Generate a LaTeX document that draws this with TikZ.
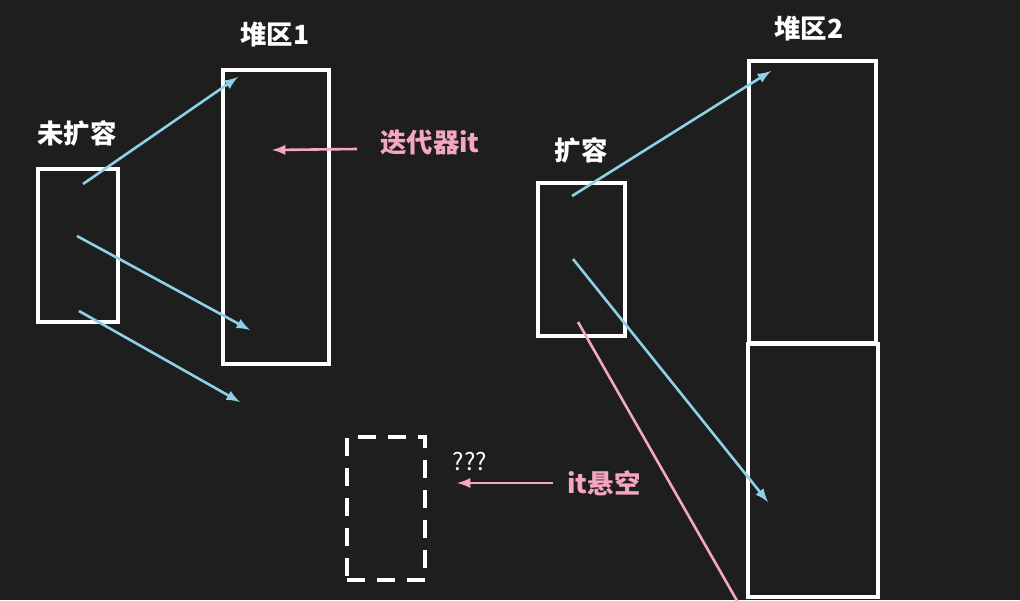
\documentclass[tikz,border=0pt]{standalone}
\usepackage{xcolor}
\usepackage{fontspec}
\usepackage{tikz}
\usetikzlibrary{arrows,shapes,positioning}
\newfontfamily\cjk{Noto Sans CJK SC}
\definecolor{bgdark}{HTML}{1E1E1E}
\definecolor{ptrblue}{HTML}{8ED1E6}
\definecolor{itpink}{HTML}{F4A6C2}

\begin{document}
\begin{tikzpicture}[x=0.5pt,y=-0.5pt,
    box/.style={draw=white, line width=1.6pt, inner sep=0pt},
    title/.style={text=white, font=\cjk\bfseries\fontsize{13.2}{15}\selectfont},
    tag/.style={text=itpink, font=\cjk\bfseries\fontsize{13.2}{15}\selectfont},
    ptr/.style={->,>=latex, draw=ptrblue, line width=1.3pt},
    itptr/.style={->,>=latex, draw=itpink, line width=1.3pt}]
        \fill[bgdark] (0,0) rectangle (1020,600);
        \useasboundingbox (0,0) rectangle (1020,600);

        % old storage and heap 1
        \node[box, minimum width=40pt, minimum height=76.5pt] (old) at (78,245.5) {};
        \node[title] (oldlbl) at (77,133) {未扩容};
        \node[box, minimum width=53pt, minimum height=147pt] (heapa) at (276,217) {};
        \node[title] (heapalbl) at (275,35) {堆区1};
        \node[tag] (itlbl) at (430,142) {迭代器it};

        \coordinate (o1) at (83,184);
        \coordinate (o2) at (77,236);
        \coordinate (o3) at (79,311);
        \coordinate (h1) at (238,77);
        \coordinate (h2) at (250,330);
        \coordinate (h3) at (240,402);
        \draw[ptr] (o1) -- (h1);
        \draw[ptr] (o2) -- (h2);
        \draw[ptr] (o3) -- (h3);

        \coordinate (itsrc) at (357,149);
        \coordinate (itdst) at (272,150);
        \draw[itptr] (itsrc) -- (itdst);

        % new storage and heap 2
        \node[box, minimum width=43.5pt, minimum height=76.5pt] (new) at (581.5,259.5) {};
        \node[title] (newlbl) at (581,150) {扩容};
        \node[box, minimum width=63.5pt, minimum height=141pt] (heapb) at (812.5,202) {};
        \node[box, minimum width=65pt, minimum height=126.5pt] (heapc) at (813,470.5) {};
        \node[title] (heapblbl) at (809,29) {堆区2};

        \coordinate (n1) at (572,196);
        \coordinate (n2) at (573,259);
        \coordinate (m1) at (771,71);
        \coordinate (m2) at (768,502);
        \draw[ptr] (n1) -- (m1);
        \draw[ptr] (n2) -- (m2);

        \coordinate (dsrc) at (578,322);
        \coordinate (dend) at (740,606);
        \draw[draw=itpink, line width=1.3pt] (dsrc) -- (dend);

        % dangling iterator
        \node[box, dash pattern=on 9pt off 6pt, minimum width=39pt, minimum height=71.5pt] (gone) at (386,508.5) {};
        \node[text=white, font=\cjk\fontsize{12}{14}\selectfont] (qq) at (470,461) {???};
        \node[tag] (danglbl) at (604,483) {it悬空};
        \coordinate (gsrc) at (553,483);
        \coordinate (gdst) at (457,483);
        \draw[itptr] (gsrc) -- (gdst);

    \end{tikzpicture}
\end{document}
